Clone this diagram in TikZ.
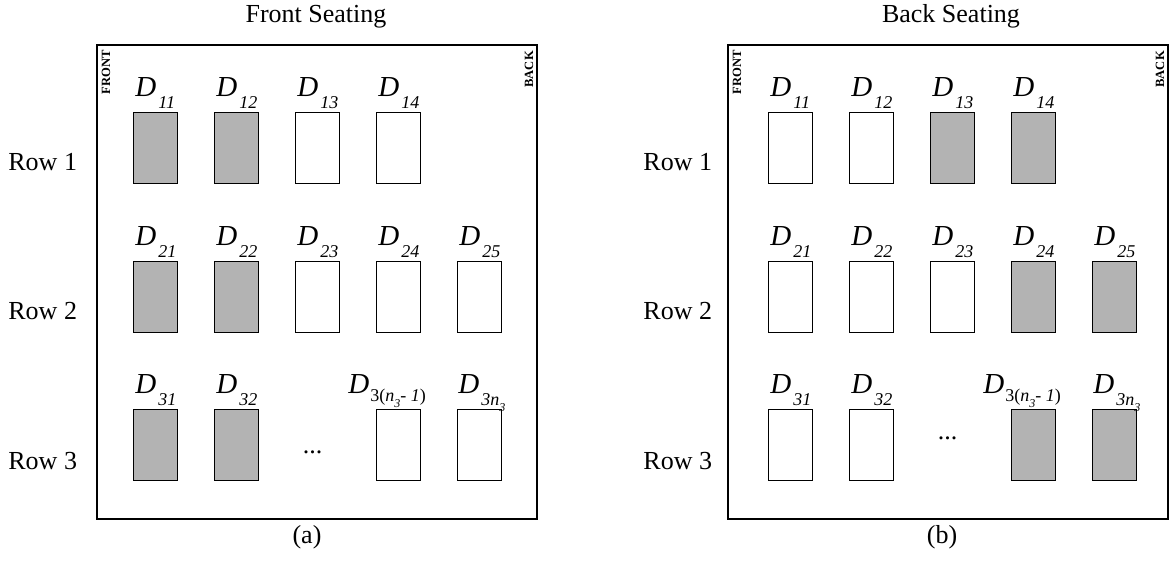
\documentclass[tikz,border=0pt]{standalone}
\usepackage{fontspec}
\setmainfont{Liberation Serif}
\definecolor{seatgray}{RGB}{179,179,179}
\newcommand{\Dfont}{\fontsize{14.5}{16}\selectfont\itshape}
\newcommand{\Sfont}{\fontsize{9}{10}\selectfont}
\newcommand{\SSfont}{\fontsize{6}{7}\selectfont\itshape}
\newcommand{\Dlab}[1]{{\Dfont D}\kern1pt\raisebox{-6pt}{\Sfont\itshape #1}}
\tikzset{
 seat/.style={draw, line width=0.9pt, minimum width=22pt, minimum height=35.5pt, inner sep=0pt},
 seaton/.style={seat, fill=seatgray},
 seatoff/.style={seat, fill=white},
 panelframe/.style={draw, line width=1pt, minimum width=220pt, minimum height=237pt, inner sep=0pt},
 lab/.style={anchor=base west, inner sep=0pt},
 txt/.style={font=\fontsize{13}{15}\selectfont, inner sep=0pt},
 sidetag/.style={font=\fontsize{6.3}{7}\selectfont\bfseries, inner sep=0pt, rotate=90, anchor=base west},
}
% #1 prefix #2 title #3 caption #4 dots baseline #5 row1 fills #6 row2 fills
% #7 fill of D31,D32 #8 fill of last two in row 3 #9 frame left
\newcommand{\seatpanel}[9]{%
 \node[txt, anchor=base] (#1-title) at (316,23) {#2};
 \node[panelframe] (#1-frame) at (#9+220.5,282.5) {};
 \node[sidetag] (#1-front) at (#9+14,95) {FRONT};
 \node[sidetag] (#1-back) at (#9+437,88) {BACK};
 \node[txt, anchor=base west] (#1-row1) at (8,171) {Row 1};
 \node[txt, anchor=base west] (#1-row2) at (8,320) {Row 2};
 \node[txt, anchor=base west] (#1-row3) at (8,470) {Row 3};
 \foreach \f [count=\i] in {#5}
   \node[\f] (#1-s1\i) at ({155.5+81*(\i-1)},148) {};
 \foreach \i in {1,...,4}
   \node[lab] (#1-d1\i) at ({135+81*(\i-1)},97) {\Dlab{1\i}};
 \foreach \f [count=\i] in {#6}
   \node[\f] (#1-s2\i) at ({155.5+81*(\i-1)},297) {};
 \foreach \i in {1,...,5}
   \node[lab] (#1-d2\i) at ({135+81*(\i-1)},246) {\Dlab{2\i}};
 \node[#7] (#1-s31) at (155.5,445) {};
 \node[#7] (#1-s32) at (236.5,445) {};
 \node[#8] (#1-s3a) at (398.5,445) {};
 \node[#8] (#1-s3b) at (479.5,445) {};
 \node[lab] (#1-d31) at (135,394) {\Dlab{31}};
 \node[lab] (#1-d32) at (216,394) {\Dlab{32}};
 \node[lab] (#1-d3a) at (348,394) {{\Dfont D}\kern0.5pt\raisebox{-4pt}{\Sfont 3(\textit{n}\raisebox{-3pt}{\SSfont 3}- \textit{1})}};
 \node[lab] (#1-d3b) at (458,394) {\Dlab{3n\raisebox{-3pt}{\SSfont 3}}};
 \node[txt, anchor=base] (#1-dots) at (312.5,#4) {...};
 \node[txt, anchor=base] (#1-cap) at (307,544) {#3};
}
\begin{document}
\begin{tikzpicture}[x=0.5pt,y=-0.5pt]
\useasboundingbox (0,0) rectangle (1172,565);
\begin{scope}
 \seatpanel{L}{Front Seating}{(a)}{454}{seaton,seaton,seatoff,seatoff}{seaton,seaton,seatoff,seatoff,seatoff}{seaton}{seatoff}{96}
\end{scope}
\begin{scope}[xshift=317.5pt]
 \seatpanel{R}{Back Seating}{(b)}{440}{seatoff,seatoff,seaton,seaton}{seatoff,seatoff,seatoff,seaton,seaton}{seatoff}{seaton}{92}
\end{scope}
\end{tikzpicture}
\end{document}
